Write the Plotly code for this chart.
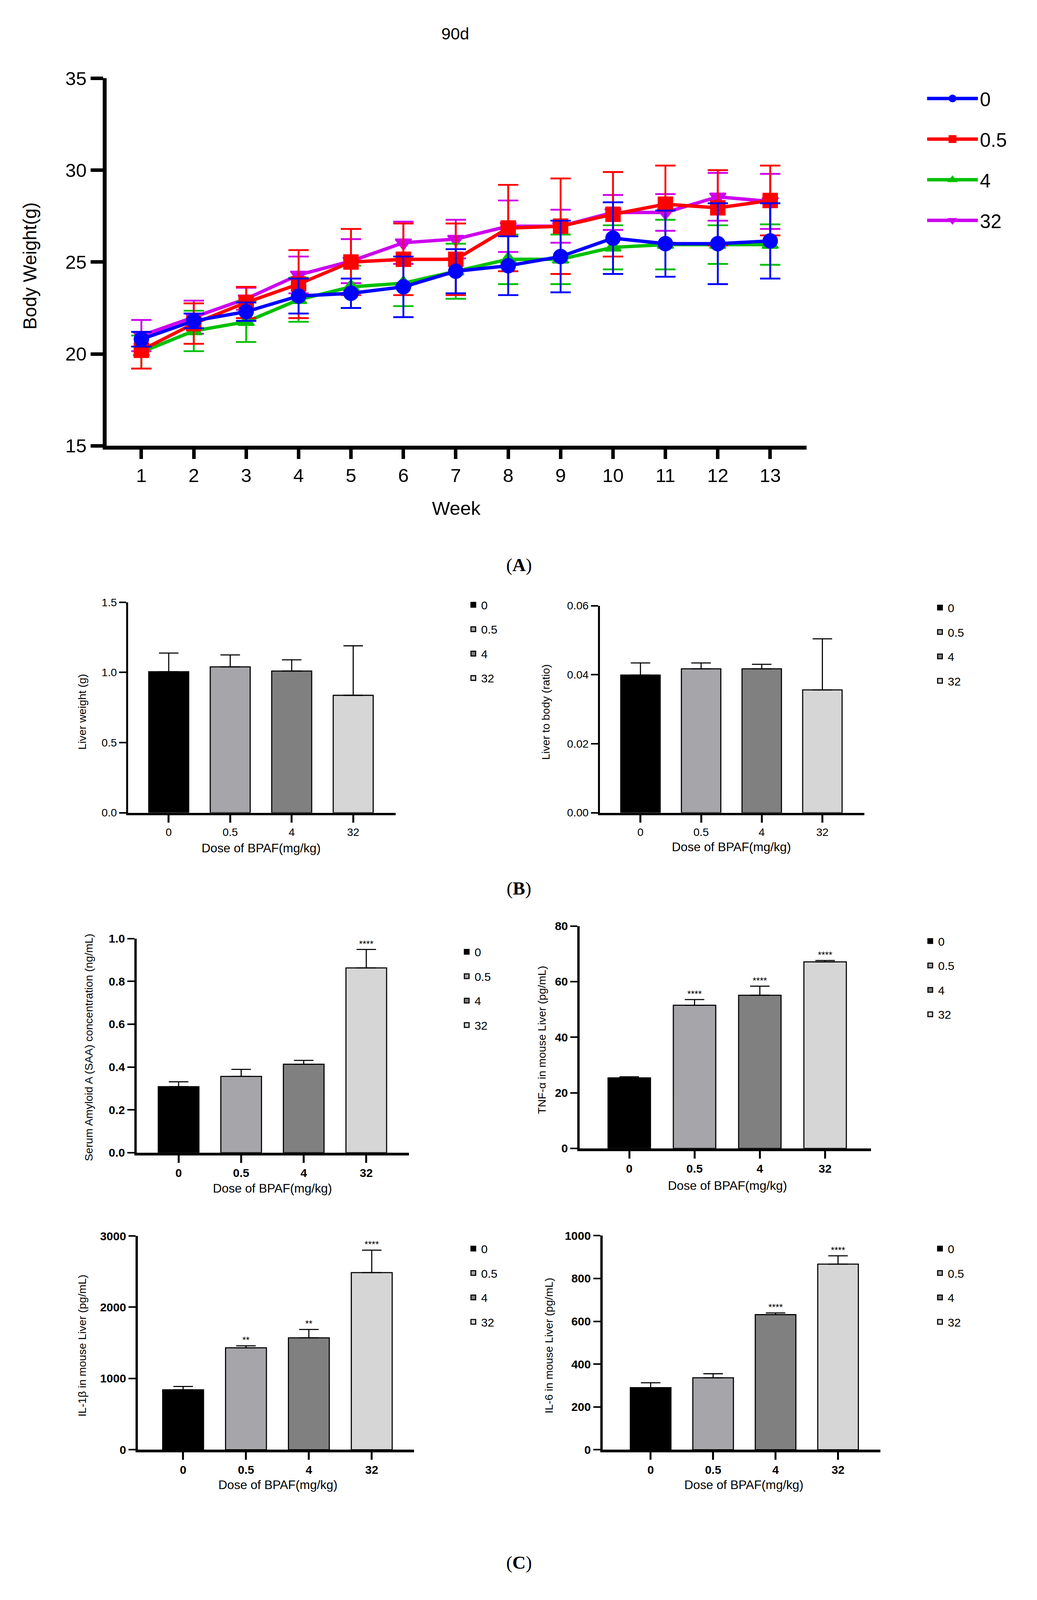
import plotly.graph_objects as go

# reference page is 2655 x 5135; every position below is given in those pixels and
# turned into paper fractions, so the figure can follow the browser viewport
W, H = 2655, 5135
K = 0.79  # pixel sizes shrink with the viewport height the page actually gets
FONT = "Liberation Sans, Arial, sans-serif"
SERIF = "Liberation Serif, Times New Roman, serif"

# ---- (A) body weight, 90 d ----
weeks = list(range(1, 14))
doses = ["0", "0.5", "4", "32"]

bw_0 = [20.8, 21.8, 22.3, 23.15, 23.3, 23.65, 24.5, 24.8, 25.3, 26.3, 26.0, 26.0, 26.15]
bw_0_sd = [0.4, 0.4, 0.5, 0.95, 0.8, 1.65, 1.2, 1.6, 1.95, 1.95, 1.8, 2.2, 2.05]
bw_05 = [20.2, 21.65, 22.8, 23.8, 25.0, 25.15, 25.15, 26.85, 26.95, 27.6, 28.15, 27.95, 28.35]
bw_05_sd = [1.0, 1.1, 0.85, 1.85, 1.8, 1.95, 1.95, 2.35, 2.6, 2.3, 2.1, 2.05, 1.9]
bw_4 = [20.1, 21.25, 21.75, 22.95, 23.65, 23.85, 24.5, 25.15, 25.15, 25.8, 25.95, 25.95, 25.95]
bw_4_sd = [0.9, 1.1, 1.1, 1.2, 1.15, 1.25, 1.5, 1.35, 1.35, 1.2, 1.35, 1.05, 1.1]
bw_32 = [21.0, 22.0, 23.0, 24.3, 25.05, 26.05, 26.25, 26.95, 26.95, 27.7, 27.7, 28.55, 28.3]
bw_32_sd = [0.85, 0.9, 0.6, 1.0, 1.2, 1.15, 1.05, 1.4, 0.9, 0.95, 1.0, 1.3, 1.5]

# ---- (B) liver ----
liver_wt = [1.005, 1.04, 1.01, 0.837]
liver_wt_sd = [0.133, 0.085, 0.08, 0.353]
liver_ratio = [0.0399, 0.0417, 0.0417, 0.0356]
liver_ratio_sd = [0.0035, 0.0017, 0.0013, 0.0148]

# ---- (C) inflammation markers ----
saa = [0.308, 0.356, 0.413, 0.863]
saa_sd = [0.023, 0.033, 0.018, 0.086]
saa_sig = ["", "", "", "****"]
tnf = [25.35, 51.5, 55.1, 67.1]
tnf_sd = [0.4, 2.05, 3.25, 0.5]
tnf_sig = ["", "****", "****", "****"]
il1b = [841, 1430, 1570, 2486]
il1b_sd = [47, 28, 118, 315]
il1b_sig = ["", "**", "**", "****"]
il6 = [290, 336, 631, 867]
il6_sd = [23, 19, 8, 39]
il6_sig = ["", "", "****", "****"]

line_colors = ["#0000FF", "#FF0000", "#00C000", "#CC00EE"]
symbols = ["circle", "square", "triangle-up", "triangle-down"]
bar_colors = ["#000000", "#A5A5AA", "#808080", "#D6D6D6"]


def px(x):
    return x / W


def py(y):
    return 1 - y / H


def k(v):
    return round(v * K, 1)


fig = go.Figure()

# purple first so blue ends on top; legendrank keeps 0, 0.5, 4, 32
series = [(bw_0, bw_0_sd), (bw_05, bw_05_sd), (bw_4, bw_4_sd), (bw_32, bw_32_sd)]
for i in [3, 2, 1, 0]:
    m, sd = series[i]
    fig.add_trace(go.Scatter(
        x=weeks, y=m, mode="lines+markers", name=doses[i],
        line=dict(color=line_colors[i], width=k(11)),
        # outline makes the (size-capped) legend symbol a bit larger too
        marker=dict(symbol=symbols[i], size=k(50) - 4, color=line_colors[i],
                    line=dict(color=line_colors[i], width=4)),
        error_y=dict(type="data", array=sd, color=line_colors[i], thickness=k(6), width=26),
        legend="legend", legendgroup="a" + doses[i], legendrank=i + 1,
        xaxis="x", yaxis="y",
    ))

axis_a = dict(showline=True, linecolor="black", linewidth=k(12), ticks="outside",
              tickcolor="black", tickwidth=k(11), showgrid=False, zeroline=False,
              tickfont=dict(family=FONT, size=k(62), color="black"))
fig.update_layout(
    xaxis=dict(axis_a, domain=[px(267), px(2069)], range=[0.34, 13.69], tickvals=weeks,
               ticklen=k(30), anchor="y"),
    yaxis=dict(axis_a, domain=[py(1411), py(211)], range=[15, 35], dtick=5, ticklen=32,
               anchor="x"),
    legend=dict(x=px(2375), y=py(476), xanchor="left", yanchor="middle",
                font=dict(family=FONT, size=k(63), color="black"), bgcolor="rgba(0,0,0,0)",
                traceorder="grouped", tracegroupgap=k(46), itemsizing="trace", itemwidth=130),
)


def bar_panel(n, means, sds, sig, xdom, ydom, yrange, dtick, fmt, xrange, bold, leg):
    ax = "x%d" % n
    ay = "y%d" % n
    lg = "legend%d" % n
    for i, d in enumerate(doses):
        fig.add_trace(go.Bar(
            x=[d], y=[means[i]], name=d, width=0.65,
            marker=dict(color=bar_colors[i], line=dict(color="black", width=k(3.5))),
            error_y=dict(type="data", symmetric=False, array=[sds[i]], arrayminus=[0],
                         color="black", thickness=k(3.5), width=25),
            legend=lg, legendgroup="%d%s" % (n, d), xaxis=ax, yaxis=ay,
        ))
    if sig is not None:
        fig.add_trace(go.Scatter(
            x=doses, y=[m + s for m, s in zip(means, sds)], mode="text", text=sig,
            textposition="top center", textfont=dict(family=FONT, size=k(30), color="black"),
            showlegend=False, xaxis=ax, yaxis=ay, hoverinfo="skip",
        ))
    tf = dict(family=FONT, size=k(38) if bold else k(36), color="black",
              weight="bold" if bold else "normal")
    lw = 6 if bold else 5
    fig.layout["xaxis%d" % n] = dict(
        domain=[px(xdom[0]), px(xdom[1])], type="category", categoryorder="array",
        categoryarray=doses, range=xrange, anchor=ay, showline=True, linecolor="black",
        linewidth=k(lw + 3), ticks="outside", ticklen=k(24), tickwidth=5, tickcolor="black",
        showgrid=False, zeroline=False, tickfont=tf,
    )
    fig.layout["yaxis%d" % n] = dict(
        domain=[py(ydom[1]), py(ydom[0])], range=yrange, dtick=dtick, tickformat=fmt,
        anchor=ax, showline=True, linecolor="black", linewidth=lw, ticks="outside",
        ticklen=18, tickwidth=k(5), tickcolor="black", showgrid=False, zeroline=False,
        tickfont=tf,
    )
    fig.layout[lg] = dict(
        x=px(leg[0]), y=py(leg[1]), xanchor="left", yanchor="middle",
        font=dict(family=FONT, size=k(38), color="black"), bgcolor="rgba(0,0,0,0)",
        traceorder="grouped", tracegroupgap=k(26),
    )


bar_panel(2, liver_wt, liver_wt_sd, None, (322, 1011), (1922, 2609), [0, 1.5], 0.5, ".1f",
          [-0.66, 3.69], False, (1191, 2050))
bar_panel(3, liver_ratio, liver_ratio_sd, None, (1537, 2218), (1933, 2609), [0, 0.06], 0.02,
          ".2f", [-0.67, 3.69], False, (2393, 2059))
bar_panel(4, saa, saa_sd, saa_sig, (344, 1045), (3020, 3719), [0, 1.0], 0.2, ".1f",
          [-0.67, 3.68], True, (1174, 3183))
bar_panel(5, tnf, tnf_sd, tnf_sig, (1485, 2235), (2979, 3705), [0, 80], 20, "d",
          [-0.76, 3.70], True, (2368, 3148))
bar_panel(6, il1b, il1b_sd, il1b_sig, (347, 1058), (3991, 4689), [0, 3000], 1000, "d",
          [-0.72, 3.67], True, (1191, 4152))
bar_panel(7, il6, il6_sd, il6_sig, (1544, 2260), (3990, 4689), [0, 1000], 200, "d",
          [-0.77, 3.68], True, (2393, 4152))


def label(text, x, y, size, angle=0, family=FONT):
    return dict(text=text, x=px(x), y=py(y), xref="paper", yref="paper", showarrow=False,
                textangle=angle, xanchor="center", yanchor="middle",
                font=dict(family=family, size=k(size), color="black"))


ann = [
    label("90d", 1165, 65, 54),
    label("Body Weight(g)", 68, 824, 60, -90),
    label("Week", 1168, 1615, 62),
    label("(<b>A</b>)", 1329, 1800, 60, family=SERIF),
    label("Liver weight (g)", 203, 2280, 36, -90),
    label("Liver to body (ratio)", 1397, 2280, 36, -90),
    label("Dose of BPAF(mg/kg)", 665, 2725, 40),
    label("Dose of BPAF(mg/kg)", 1876, 2720, 40),
    label("(<b>B</b>)", 1329, 2856, 60, family=SERIF),
    label("Serum Amyloid A (SAA) concentration (ng/mL)", 220, 3376, 36, -90),
    label("TNF-α in mouse Liver (pg/mL)", 1388, 3351, 36, -90),
    label("Dose of BPAF(mg/kg)", 694, 3835, 40),
    label("Dose of BPAF(mg/kg)", 1866, 3827, 40),
    label("IL-1β in mouse Liver (pg/mL)", 203, 4349, 36, -90),
    label("IL-6 in mouse Liver (pg/mL)", 1405, 4349, 36, -90),
    label("Dose of BPAF(mg/kg)", 708, 4804, 40),
    label("Dose of BPAF(mg/kg)", 1908, 4804, 40),
    label("(<b>C</b>)", 1329, 5057, 60, family=SERIF),
]

fig.update_layout(
    margin=dict(l=0, r=0, t=0, b=0), autosize=True,
    paper_bgcolor="white", plot_bgcolor="white", barmode="overlay",
    annotations=ann, font=dict(family=FONT, color="black"),
)

# the page only gets as much height as the browser really shows, so size to the viewport
fig.write_html("out.html", default_width="100%", default_height="calc(100vh - 16px)")
